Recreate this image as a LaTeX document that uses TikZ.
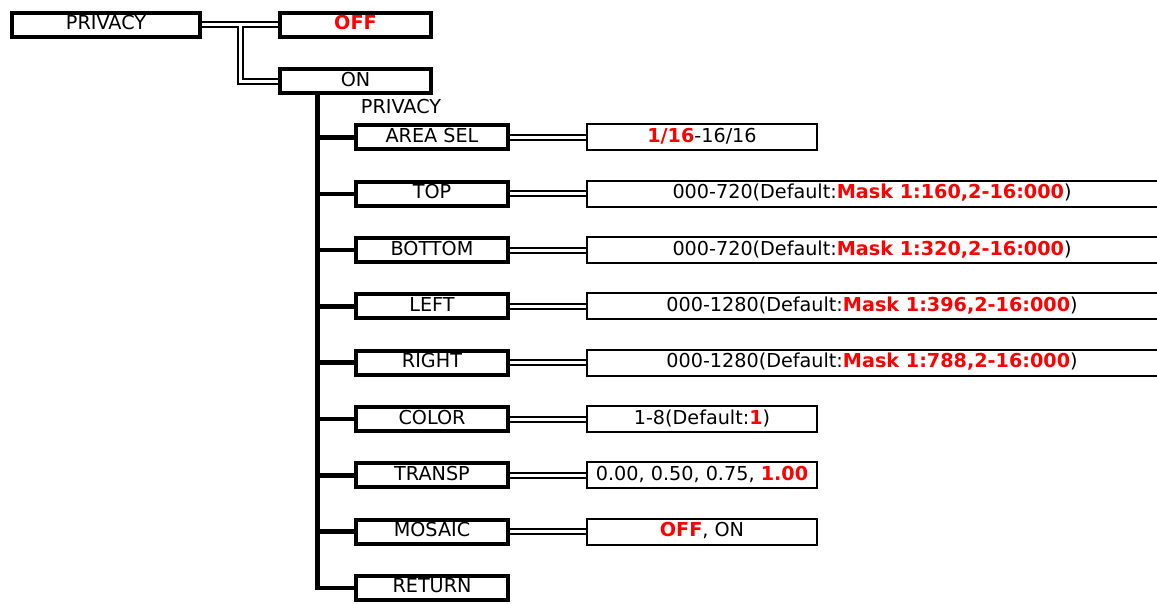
\documentclass[tikz,border=0pt]{standalone}
\usepackage{fontspec}
\setmainfont{DejaVu Sans}
\begin{document}
\begin{tikzpicture}[x=1pt,y=-1pt,
  mbox/.style={draw, line width=4pt, minimum height=24pt, inner sep=0pt,
    text height=14pt, text depth=4pt, font=\fontsize{19.2}{22}\selectfont},
  vbox/.style={draw, line width=2pt, minimum height=26pt, inner sep=0pt,
    text height=14pt, text depth=4pt, font=\fontsize{19.2}{22}\selectfont},
  dbl/.style={draw, double, double distance=3pt, line width=2pt},
  trunk/.style={draw, line width=4.5pt},
  hl/.style={text=red, font=\bfseries}]
\useasboundingbox (0,0) rectangle (1157,604);
\fill[white] (0,0) rectangle (1157,604);
% top level
\node[mbox, minimum width=188pt] (priv) at (106,25) {PRIVACY};
\node[mbox, minimum width=151pt] (off) at (355.5,25) {\textcolor{red}{\bfseries OFF}};
\node[mbox, minimum width=151pt] (on) at (355.5,81.5) {ON};
\coordinate (jn) at (240,25);
\path[dbl] (priv.east) -- (off.west) (jn) -- (jn |- on.west) -- (on.west);
% label
\node[font=\fontsize{19.2}{22}\selectfont, inner sep=0pt] (plabel) at (401,107) {PRIVACY};
% sub boxes
\foreach \n/\t/\y in {s1/AREA SEL/137.5, s2/TOP/193.8, s3/BOTTOM/250.1, s4/LEFT/306.4,
  s5/RIGHT/362.7, s6/COLOR/419, s7/TRANSP/475.3, s8/MOSAIC/531.6, s9/RETURN/587.9}
  {\node[mbox, minimum width=152pt] (\n) at (432,\y) {\t};}
% value boxes
\node[vbox, minimum width=230pt] (v1) at (702,137.5) {\textcolor{red}{\bfseries 1/16}-16/16};
\node[vbox, minimum width=583pt] (v2) at (878.5,193.8) {\hspace*{-13pt}000-720(Default:\textcolor{red}{\bfseries Mask 1:160,2-16:000})};
\node[vbox, minimum width=583pt] (v3) at (878.5,250.1) {\hspace*{-13pt}000-720(Default:\textcolor{red}{\bfseries Mask 1:320,2-16:000})};
\node[vbox, minimum width=583pt] (v4) at (878.5,306.4) {\hspace*{-13pt}000-1280(Default:\textcolor{red}{\bfseries Mask 1:396,2-16:000})};
\node[vbox, minimum width=583pt] (v5) at (878.5,362.7) {\hspace*{-13pt}000-1280(Default:\textcolor{red}{\bfseries Mask 1:788,2-16:000})};
\node[vbox, minimum width=230pt] (v6) at (702,419) {1-8(Default:\textcolor{red}{\bfseries 1})};
\node[vbox, minimum width=230pt] (v7) at (702,475.3) {0.00, 0.50, 0.75, \textcolor{red}{\bfseries 1.00}};
\node[vbox, minimum width=230pt] (v8) at (702,531.6) {\textcolor{red}{\bfseries OFF}, ON};
% double connectors
\foreach \i in {1,...,8} {\path[dbl] (s\i.east) -- (v\i.west);}
% trunk
\coordinate (tk) at (317.5,95);
\path[trunk] (tk) -- (tk |- s9.west) -- (s9.west);
\foreach \i in {1,...,8} {\path[trunk] (tk |- s\i.west) -- (s\i.west);}
\end{tikzpicture}
\end{document}
